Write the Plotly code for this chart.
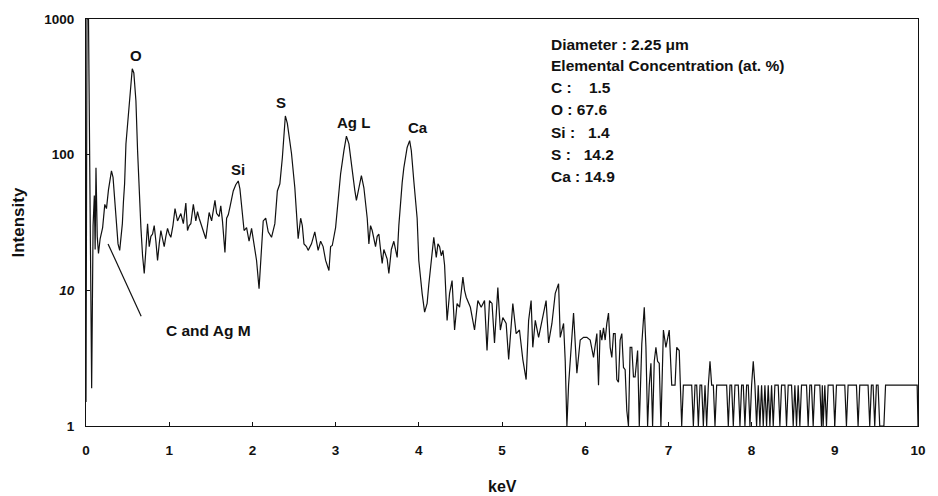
import plotly.graph_objects as go

# ---------------- data ----------------
# EDX spectrum: energy (keV) and counts (intensity)
energy_low = [0.000, 0.012, 0.030, 0.050, 0.068, 0.085, 0.100, 0.110, 0.120, 0.135,
              0.150, 0.170, 0.200, 0.226, 0.246, 0.270, 0.290, 0.306, 0.325, 0.345,
              0.365, 0.385, 0.405, 0.420, 0.437, 0.450, 0.464, 0.480, 0.504, 0.530,
              0.556, 0.575, 0.600, 0.620, 0.640, 0.660, 0.680, 0.700, 0.720, 0.740,
              0.760, 0.780, 0.800, 0.820, 0.840, 0.860, 0.880, 0.900, 0.920, 0.940,
              0.960, 0.980, 1.000, 1.020, 1.045, 1.070, 1.100, 1.120, 1.140, 1.170,
              1.200, 1.220, 1.240, 1.260, 1.290, 1.320, 1.340, 1.360, 1.380, 1.400,
              1.440, 1.480, 1.510, 1.550, 1.570, 1.600, 1.620, 1.640, 1.670, 1.690,
              1.710, 1.730, 1.750, 1.770, 1.800, 1.830, 1.850, 1.880, 1.900, 1.930,
              1.960, 1.990, 2.020, 2.050, 2.080, 2.100, 2.130, 2.160, 2.190, 2.230,
              2.270, 2.300, 2.330, 2.360, 2.380, 2.396, 2.420, 2.450, 2.470, 2.510,
              2.530, 2.550, 2.580, 2.600, 2.620, 2.650, 2.670, 2.710, 2.750, 2.790,
              2.820, 2.850, 2.880, 2.920, 2.940, 2.960, 3.000, 3.020, 3.040, 3.060,
              3.100, 3.130, 3.160, 3.180, 3.200, 3.230, 3.250, 3.280, 3.310, 3.340,
              3.360, 3.380, 3.400, 3.420, 3.440, 3.460, 3.480, 3.500, 3.520, 3.540,
              3.560, 3.580, 3.600, 3.620, 3.640, 3.670, 3.700, 3.720, 3.740, 3.760,
              3.780, 3.800, 3.820, 3.860, 3.890, 3.910, 3.940, 3.960, 3.980, 4.000]
counts_low = [1.5, 1000, 1000, 30, 1.9, 30, 50, 20, 80, 25,
              18.7, 24, 29, 43, 40, 55, 68, 76, 68, 45,
              31, 22, 19.7, 24, 31, 45, 61, 120, 187, 300,
              430, 400, 250, 107, 46, 29, 18, 13.3, 20, 31,
              21, 25, 26, 30, 23, 16.6, 22, 27.6, 24, 21,
              25, 28.6, 26, 24.6, 30, 40, 32.5, 35, 36.8, 31,
              44, 27.6, 30, 31, 43, 32.5, 38, 34, 31, 29,
              24, 37.5, 32.5, 46, 37, 35, 42, 32.5, 19, 34,
              36, 41, 46, 54, 60, 64, 56, 34, 27.6, 29,
              23, 28.6, 22, 16.6, 10.3, 17.5, 32.5, 34, 27, 24.6,
              31, 54, 61, 95, 150, 193, 170, 125, 102, 57,
              36.7, 24, 34, 30, 22, 21, 19.7, 22, 27, 19.7,
              23, 21, 16.6, 14, 21, 21.4, 29, 40, 51, 72,
              107, 137, 120, 95, 72, 55, 46, 58, 70, 57,
              45, 34, 22, 30, 27.6, 24, 21, 25, 26, 20,
              15.8, 20, 18.7, 17, 13.3, 20, 23, 20, 17.5, 30,
              46, 62, 80, 113, 127, 107, 64, 45, 34, 16.6]

energy_mid = [4.020, 4.040, 4.070, 4.100, 4.120, 4.140, 4.160, 4.180, 4.210, 4.230,
              4.250, 4.270, 4.290, 4.310, 4.340, 4.370, 4.400, 4.430, 4.460, 4.490,
              4.530, 4.550, 4.570, 4.620, 4.670, 4.710, 4.750, 4.790, 4.820, 4.850,
              4.880, 4.910, 4.950, 4.980, 5.010, 5.050, 5.080, 5.130, 5.170, 5.210,
              5.250, 5.290, 5.320, 5.350, 5.370, 5.400, 5.440, 5.480, 5.530, 5.560,
              5.600, 5.640, 5.680, 5.700, 5.740, 5.760, 5.780, 5.800, 5.820, 5.860,
              5.900, 5.940, 5.980, 6.020, 6.060, 6.100, 6.140, 6.160, 6.180, 6.200,
              6.220, 6.240, 6.260, 6.280, 6.300, 6.320, 6.340, 6.360, 6.380, 6.400,
              6.420, 6.440, 6.460, 6.480, 6.500, 6.520, 6.540, 6.560, 6.580, 6.600,
              6.630, 6.650, 6.680, 6.710, 6.730, 6.750, 6.770, 6.790, 6.810, 6.830,
              6.850, 6.870, 6.890, 6.910, 6.940, 6.970, 7.010, 7.040, 7.060, 7.080,
              7.100, 7.130, 7.160]
counts_mid = [12, 9.5, 6.9, 8, 11, 14.8, 20, 24.6, 17.5, 22,
              21, 18, 19.7, 15.3, 6, 9.5, 11.8, 5.1, 8, 7.5,
              12.5, 10, 8.9, 7.5, 5.1, 8.4, 7.5, 8.4, 3.6, 8.4,
              8, 4.1, 10.5, 5.1, 6.3, 5.7, 3.1, 8, 4.8, 5.1,
              3.1, 2.2, 6, 8.4, 3.8, 6, 4.5, 6, 8.4, 4.1,
              5.7, 9.5, 11.2, 4.5, 5.7, 3, 1, 2, 3.1, 6.8,
              2.45, 4.3, 4.5, 4.5, 4.3, 3.2, 4.8, 2, 5.1, 4.3,
              5.3, 4.3, 5.7, 6.8, 3.8, 3.2, 4.8, 4.8, 2.2, 2.1,
              4.3, 4.8, 2.7, 2.6, 1.3, 1, 3.8, 3.8, 2.3, 2.3,
              3.6, 1, 4, 7.5, 3.8, 1, 2, 2.9, 1, 3,
              3.8, 3, 2.9, 1, 5.1, 3.8, 5.1, 2, 2, 2,
              3.8, 3.6, 1]

energy_high = [7.18, 7.28, 7.30, 7.32, 7.34, 7.36, 7.38, 7.40, 7.42, 7.44,
               7.46, 7.48, 7.50, 7.52, 7.54, 7.56, 7.58, 7.70, 7.72, 7.74,
               7.76, 7.78, 7.80, 7.84, 7.86, 7.88, 7.90, 7.92, 7.94, 7.96,
               7.98, 8.00, 8.02, 8.04, 8.06, 8.08, 8.10, 8.12, 8.14, 8.16,
               8.18, 8.20, 8.22, 8.24, 8.26, 8.28, 8.32, 8.34, 8.36, 8.40,
               8.42, 8.44, 8.48, 8.50, 8.52, 8.54, 8.56, 8.58, 8.60, 8.66,
               8.68, 8.70, 8.72, 8.74, 8.76, 8.82, 8.84, 8.85, 8.86, 8.88,
               8.90, 8.92, 8.98, 9.00, 9.02, 9.12, 9.14, 9.16, 9.26, 9.28,
               9.30, 9.40, 9.42, 9.44, 9.46, 9.48, 9.50, 9.52, 9.54, 9.59,
               9.61, 9.99, 10.00]
counts_high = [2, 2, 1, 2, 2, 1, 2, 2, 1, 2,
               1, 2, 3, 2, 2, 1, 2, 2, 1, 2,
               2, 1, 2, 2, 1, 2, 2, 1, 2, 2,
               1, 2, 3, 2, 1, 2, 1, 2, 1, 2,
               1, 2, 1, 2, 1, 2, 2, 1, 2, 2,
               1, 2, 2, 1, 2, 1, 2, 1, 2, 2,
               1, 2, 2, 1, 2, 2, 1, 2, 1, 2,
               1, 2, 2, 1, 2, 2, 1, 2, 2, 1,
               2, 2, 1, 2, 2, 1, 2, 2, 1, 1,
               2, 2, 1]

peak_labels = ["O", "Si", "S", "Ag L", "Ca"]
peak_label_kev = [0.595, 1.825, 2.342, 3.214, 3.996]
peak_label_log = [2.728, 1.888, 2.385, 2.238, 2.201]

info_lines = ["Diameter : 2.25 \u03bcm",
              "Elemental Concentration (at. %)",
              "C :\u00a0\u00a0\u00a0 1.5",
              "O : 67.6",
              "Si :\u00a0\u00a0 1.4",
              "S :\u00a0\u00a0 14.2",
              "Ca : 14.9"]
info_line_log = [2.809, 2.659, 2.495, 2.331, 2.164, 2.000, 1.838]

pointer_kev = [0.663, 0.265]
pointer_counts = [6.44, 22.0]

x_ticks = [0, 1, 2, 3, 4, 5, 6, 7, 8, 9, 10]
y_ticks = [1, 10, 100, 1000]
y_ticktext = ["1", "<i>10</i>", "100", "1000"]

# ---------------- figure ----------------
FONT = "Arial, 'Liberation Sans', sans-serif"
INK = "#111111"
energy = energy_low + energy_mid + energy_high
counts = counts_low + counts_mid + counts_high

fig = go.Figure()
fig.add_trace(go.Scatter(x=energy, y=counts, mode="lines",
                         line=dict(color=INK, width=1.2),
                         showlegend=False, hoverinfo="skip"))
fig.add_trace(go.Scatter(x=pointer_kev, y=pointer_counts, mode="lines",
                         line=dict(color=INK, width=1.2),
                         showlegend=False, hoverinfo="skip"))

annotations = []
for t, xk, yl in zip(peak_labels, peak_label_kev, peak_label_log):
    annotations.append(dict(x=xk, y=yl, xref="x", yref="y", text=t, showarrow=False,
                            font=dict(family=FONT, size=15, color=INK, weight="bold"),
                            xanchor="center", yanchor="middle"))
for t, yl in zip(info_lines, info_line_log):
    annotations.append(dict(x=5.56, y=yl, xref="x", yref="y", text=t, showarrow=False,
                            font=dict(family=FONT, size=15.5, color=INK, weight="bold"),
                            xanchor="left", yanchor="middle"))
annotations.append(dict(x=0.94, y=0.706, xref="x", yref="y", text="C and Ag M",
                        showarrow=False, xanchor="left", yanchor="middle",
                        font=dict(family=FONT, size=15.5, color=INK, weight="bold")))
annotations.append(dict(x=0.5, y=0, xref="paper", yref="paper", text="keV",
                        showarrow=False, yshift=-60, xanchor="center", yanchor="middle",
                        font=dict(family=FONT, size=16, color=INK, weight="bold")))
annotations.append(dict(x=0, y=0.5, xref="paper", yref="paper", text="Intensity",
                        showarrow=False, xshift=-68, textangle=-90,
                        xanchor="center", yanchor="middle",
                        font=dict(family=FONT, size=17, color=INK, weight="bold")))

fig.update_layout(
    width=938, height=496,
    margin=dict(l=86, r=12, t=18, b=70),
    paper_bgcolor="white", plot_bgcolor="white",
    annotations=annotations,
    xaxis=dict(range=[0, 10], tickmode="array", tickvals=x_ticks,
               ticks="inside", ticklen=4, tickcolor=INK,
               showline=True, mirror=True, linecolor=INK, linewidth=1,
               showgrid=False, zeroline=False, ticklabelstandoff=12,
               tickfont=dict(family=FONT, size=13.5, color=INK, weight="bold")),
    yaxis=dict(type="log", range=[0, 3], tickmode="array", tickvals=y_ticks,
               ticktext=y_ticktext,
               ticks="inside", ticklen=4, tickcolor=INK,
               showline=True, mirror=True, linecolor=INK, linewidth=1,
               showgrid=False, zeroline=False, ticklabelstandoff=8,
               tickfont=dict(family=FONT, size=13.5, color=INK, weight="bold")),
)

fig.write_html("out.html")
